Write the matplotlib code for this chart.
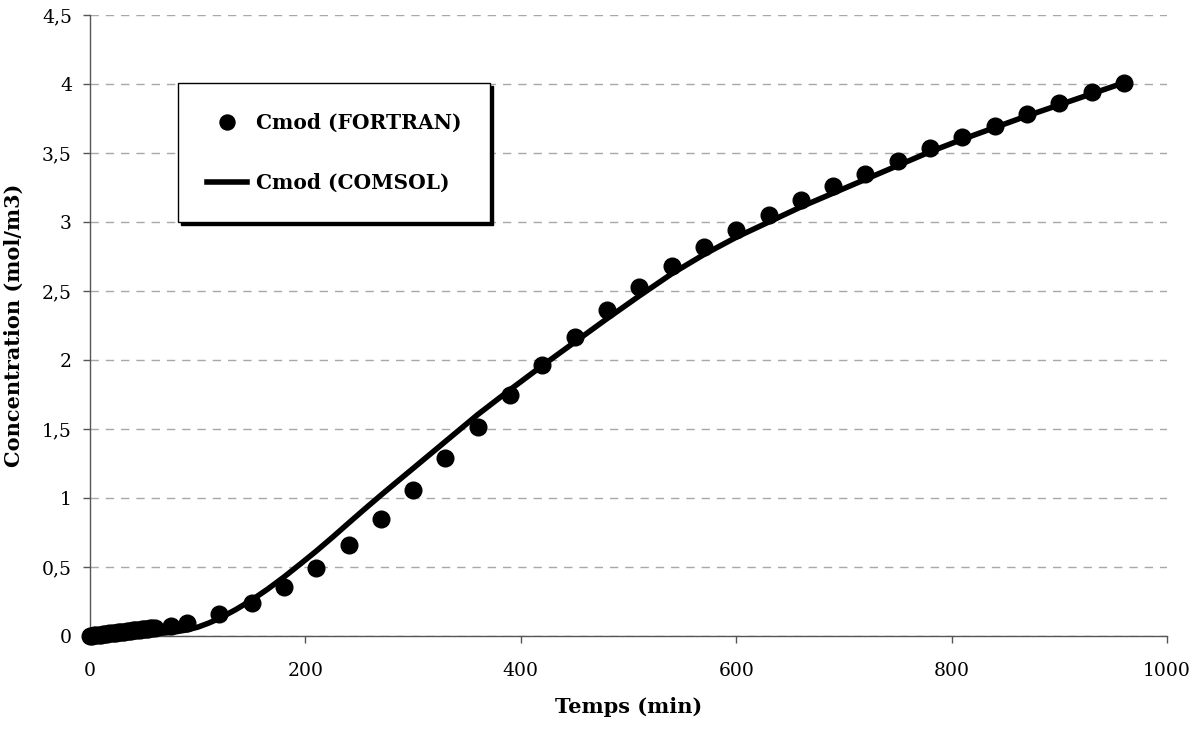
import matplotlib
matplotlib.use("Agg")
import matplotlib.pyplot as plt

# FORTRAN model points
t_fortran = [0, 2, 4, 6, 8, 10, 12, 14, 16, 18, 20, 22, 24, 26, 28, 30, 32, 34, 36, 38,
             40, 42, 44, 46, 48, 50, 52, 54, 56, 58, 60,
             75, 90, 120, 150, 180, 210, 240, 270, 300, 330, 360, 390, 420, 450, 480,
             510, 540, 570, 600, 630, 660, 690, 720, 750, 780, 810, 840, 870, 900, 930, 960]
c_fortran = [0.0, 0.002, 0.004, 0.006, 0.008, 0.010, 0.012, 0.014, 0.016, 0.018, 0.020,
             0.022, 0.024, 0.026, 0.028, 0.030, 0.032, 0.034, 0.036, 0.038, 0.040,
             0.042, 0.044, 0.046, 0.048, 0.050, 0.052, 0.054, 0.056, 0.058, 0.060,
             0.075, 0.095, 0.157, 0.24, 0.353, 0.495, 0.657, 0.848, 1.058, 1.288, 1.517,
             1.746, 1.964, 2.17, 2.36, 2.53, 2.68, 2.82, 2.94, 3.05, 3.16, 3.26, 3.35,
             3.445, 3.535, 3.62, 3.70, 3.78, 3.86, 3.94, 4.01]

# COMSOL model curve
t_comsol = [0, 20, 40, 60, 70, 80, 90, 100, 110, 120, 135, 150, 165, 180, 195, 210, 225,
            240, 255, 270, 285, 300, 330, 360, 390, 420, 450, 480, 510, 540, 570, 600,
            630, 660, 690, 720, 750, 780, 810, 840, 870, 900, 930, 960]
c_comsol = [0.0, 0.004, 0.009, 0.016, 0.022, 0.031, 0.044, 0.064, 0.093, 0.127, 0.19,
            0.26, 0.34, 0.427, 0.52, 0.615, 0.715, 0.818, 0.92, 1.02, 1.118, 1.215,
            1.41, 1.605, 1.785, 1.96, 2.13, 2.30, 2.465, 2.625, 2.765, 2.89, 3.00,
            3.11, 3.21, 3.31, 3.41, 3.51, 3.60, 3.685, 3.77, 3.85, 3.93, 4.01]

x_ticks = [0, 200, 400, 600, 800, 1000]
y_ticks = [0, 0.5, 1, 1.5, 2, 2.5, 3, 3.5, 4, 4.5]
y_ticklabels = ["0", "0,5", "1", "1,5", "2", "2,5", "3", "3,5", "4", "4,5"]

serif = ["DejaVu Serif"]
plt.rcParams["font.family"] = serif

fig = plt.figure(figsize=(12.02, 7.29), dpi=100)
ax = fig.add_axes([0.0749, 0.1276, 0.896, 0.8516])

ax.plot(t_fortran, c_fortran, linestyle="none", marker="o", markersize=12,
        color="black", label="Cmod (FORTRAN)", zorder=3, clip_on=False)
ax.plot(t_comsol, c_comsol, color="black", linewidth=4, label="Cmod (COMSOL)",
        zorder=4, clip_on=False, solid_joinstyle="round")

ax.set_xlim(0, 1000)
ax.set_ylim(0, 4.5)
ax.set_xticks(x_ticks)
ax.set_yticks(y_ticks)
ax.set_yticklabels(y_ticklabels)
ax.tick_params(axis="both", labelsize=13.5, direction="out", length=5, width=1,
               color="#555555", pad=8)
ax.tick_params(axis="x", pad=14)

ax.grid(axis="y", color="#a8a8a8", linestyle=(0, (6, 5)), linewidth=1)
ax.set_axisbelow(True)
for s in ["top", "right"]:
    ax.spines[s].set_visible(False)
for s in ["left", "bottom"]:
    ax.spines[s].set_color("#555555")
    ax.spines[s].set_linewidth(1)

ax.set_xlabel("Temps (min)", fontsize=15, fontweight="bold", labelpad=12)
ax.set_ylabel("Concentration (mol/m3)", fontsize=15, fontweight="bold", labelpad=13)

leg = ax.legend(loc="upper left", bbox_to_anchor=(0.0817, 0.890),
                prop={"weight": "bold", "size": 14.5, "family": serif},
                frameon=True, fancybox=False, shadow={"color": "black", "alpha": 1},
                borderpad=1.45, labelspacing=2.0, handlelength=2.0, handletextpad=0.4,
                borderaxespad=0, markerscale=0.9)
leg.get_frame().set_edgecolor("black")
leg.get_frame().set_linewidth(1)
leg.get_frame().set_facecolor("white")
leg.get_frame().set_alpha(1)

fig.savefig("out.png", dpi=100)
